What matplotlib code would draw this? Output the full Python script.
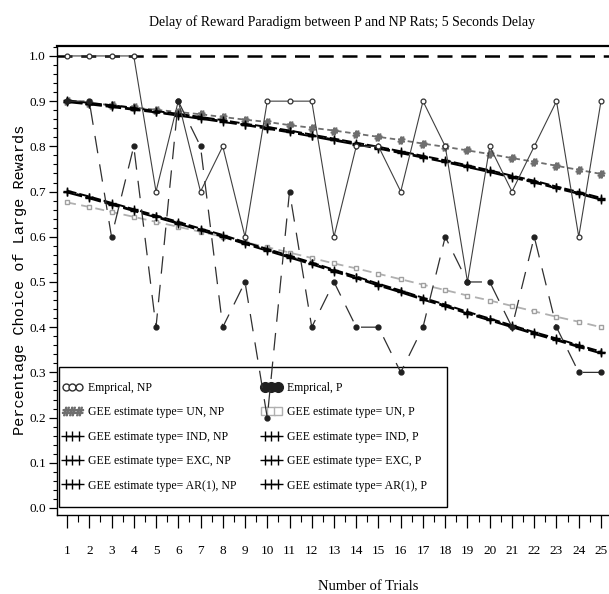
import matplotlib
matplotlib.use("Agg")
import matplotlib.pyplot as plt
from matplotlib.lines import Line2D
from matplotlib.patches import Rectangle
from matplotlib.ticker import MultipleLocator, FormatStrFormatter

# trial numbers
TRIALS = list(range(1, 26))

# empirical proportions of large-reward choices
EMP_NP = [1.0, 1.0, 1.0, 1.0, 0.7, 0.9, 0.7, 0.8, 0.6, 0.9, 0.9, 0.9, 0.6,
          0.8, 0.8, 0.7, 0.9, 0.8, 0.5, 0.8, 0.7, 0.8, 0.9, 0.6, 0.9]
EMP_P = [0.9, 0.9, 0.6, 0.8, 0.4, 0.9, 0.8, 0.4, 0.5, 0.2, 0.7, 0.4, 0.5,
         0.4, 0.4, 0.3, 0.4, 0.6, 0.5, 0.5, 0.4, 0.6, 0.4, 0.3, 0.3]

# GEE fitted curves, NP rats
GEE_UN_NP = [0.900, 0.896, 0.891, 0.886, 0.881, 0.876, 0.871, 0.865, 0.859,
             0.854, 0.847, 0.841, 0.835, 0.828, 0.821, 0.814, 0.806, 0.799,
             0.791, 0.783, 0.774, 0.766, 0.757, 0.748, 0.739]
GEE_IND_NP = [0.902, 0.896, 0.891, 0.885, 0.878, 0.872, 0.865, 0.858, 0.850,
              0.843, 0.835, 0.826, 0.817, 0.808, 0.799, 0.789, 0.779, 0.769,
              0.758, 0.747, 0.735, 0.724, 0.711, 0.699, 0.686]
GEE_EXC_NP = [0.900, 0.894, 0.889, 0.883, 0.876, 0.870, 0.863, 0.856, 0.848,
              0.841, 0.833, 0.824, 0.815, 0.806, 0.797, 0.787, 0.777, 0.767,
              0.756, 0.745, 0.733, 0.722, 0.709, 0.697, 0.684]
GEE_AR_NP = [0.898, 0.893, 0.887, 0.881, 0.875, 0.868, 0.861, 0.854, 0.847,
             0.839, 0.831, 0.822, 0.813, 0.804, 0.795, 0.785, 0.775, 0.765,
             0.754, 0.743, 0.731, 0.720, 0.707, 0.695, 0.682]

# GEE fitted curves, P rats
GEE_UN_P = [0.676, 0.666, 0.655, 0.644, 0.633, 0.622, 0.611, 0.600, 0.588,
            0.577, 0.565, 0.553, 0.541, 0.530, 0.518, 0.506, 0.494, 0.482,
            0.470, 0.459, 0.447, 0.435, 0.423, 0.412, 0.400]
GEE_IND_P = [0.702, 0.689, 0.675, 0.661, 0.647, 0.633, 0.618, 0.604, 0.588,
             0.573, 0.558, 0.543, 0.527, 0.512, 0.496, 0.481, 0.465, 0.450,
             0.434, 0.419, 0.404, 0.389, 0.375, 0.360, 0.346]
GEE_EXC_P = [0.700, 0.687, 0.673, 0.659, 0.645, 0.631, 0.616, 0.602, 0.586,
             0.571, 0.556, 0.541, 0.525, 0.510, 0.494, 0.479, 0.463, 0.448,
             0.432, 0.417, 0.402, 0.387, 0.373, 0.358, 0.344]
GEE_AR_P = [0.698, 0.685, 0.671, 0.657, 0.643, 0.629, 0.614, 0.600, 0.584,
            0.569, 0.554, 0.539, 0.523, 0.508, 0.492, 0.477, 0.461, 0.446,
            0.430, 0.415, 0.400, 0.385, 0.371, 0.356, 0.342]

LEGEND_LABELS = [
    "Emprical, NP",
    "GEE estimate type= UN, NP",
    "GEE estimate type= IND, NP",
    "GEE estimate type= EXC, NP",
    "GEE estimate type= AR(1), NP",
    "Emprical, P",
    "GEE estimate type= UN, P",
    "GEE estimate type= IND, P",
    "GEE estimate type= EXC, P",
    "GEE estimate type= AR(1), P",
]

SERIF = ["Liberation Serif", "DejaVu Serif"]
W, H = 609, 594

plt.rcParams.update({
    "font.family": SERIF,
    "font.size": 9,
    "axes.linewidth": 1.0,
})

fig = plt.figure(figsize=(W / 100, H / 100), dpi=100)
ax = fig.add_axes([57 / W, (H - 515) / H, (W - 57) / W, (515 - 46) / H])
ax.set_zorder(2)
ax.patch.set_alpha(0)

ax.set_xlim(0.55, 25.36)
ax.set_ylim(-0.0155, 1.022)

# reference line at 1.0
ax.axhline(1.0, color="black", lw=1.8, ls=(0, (6, 3.5)), zorder=1)

gee_black = dict(color="black", lw=1.4, marker="+", ms=6, mew=1.0, zorder=3)
ax.plot(TRIALS, GEE_UN_NP, color="#6e6e6e", lw=1.3, ls=(0, (3, 2)),
        marker="$\\#$", ms=5, zorder=2)
ax.plot(TRIALS, GEE_IND_NP, ls=(0, (5, 1.5)), **gee_black)
ax.plot(TRIALS, GEE_EXC_NP, ls=(0, (3, 2)), **gee_black)
ax.plot(TRIALS, GEE_AR_NP, ls=(0, (8, 2)), **gee_black)

ax.plot(TRIALS, GEE_UN_P, color="#b0b0b0", lw=1.3, ls=(0, (5, 3)),
        marker="s", ms=3.5, mfc="white", mec="#a0a0a0", zorder=2)
ax.plot(TRIALS, GEE_IND_P, ls=(0, (5, 1.5)), **gee_black)
ax.plot(TRIALS, GEE_EXC_P, ls=(0, (3, 2)), **gee_black)
ax.plot(TRIALS, GEE_AR_P, ls=(0, (8, 2)), **gee_black)

ax.plot(TRIALS, EMP_NP, color="#404040", lw=0.8, marker="o", ms=3.5,
        mfc="white", mec="#303030", mew=0.9, zorder=4)
ax.plot(TRIALS, EMP_P, color="#303030", lw=0.9, ls=(0, (14, 9)),
        marker="o", ms=3.5, mfc="#202020", mec="#202020", zorder=4)

# axes and ticks
ax.spines["right"].set_visible(False)
ax.spines["top"].set_linewidth(1.6)
ax.set_xticks(TRIALS)
ax.xaxis.set_minor_locator(MultipleLocator(0.5))
ax.yaxis.set_major_locator(MultipleLocator(0.1))
ax.yaxis.set_minor_locator(MultipleLocator(0.02))
ax.yaxis.set_major_formatter(FormatStrFormatter("%.1f"))
ax.tick_params(axis="x", which="major", direction="out", length=9.5, width=0.9,
               pad=12, labelsize=9.5)
ax.tick_params(axis="x", which="minor", direction="out", length=5, width=0.8)
ax.tick_params(axis="y", which="major", direction="out", length=6, width=0.9,
               pad=2, labelsize=9.5)
ax.tick_params(axis="y", which="minor", direction="out", length=3, width=0.8)

fig.text(342 / W, 1 - 22 / H,
         "Delay of Reward Paradigm between P and NP Rats; 5 Seconds Delay",
         ha="center", va="center", fontsize=10)
fig.text(368 / W, 1 - 586 / H, "Number of Trials", ha="center", va="center",
         fontsize=10.5)
fig.text(20 / W, 1 - 280 / H, "Percentage Choice of Large Rewards",
         ha="center", va="center", rotation=90, fontsize=11,
         family=["Liberation Mono", "DejaVu Sans Mono"])

# legend (sits under the data, like the original)
handles = [
    Line2D([], [], color="#303030", lw=0.8, marker="o", ms=5, mfc="white",
           mec="#303030"),
    Line2D([], [], color="#6e6e6e", ls="", marker="$\\#$", ms=6),
    Line2D([], [], color="black", lw=0.9, marker="+", ms=7),
    Line2D([], [], color="black", lw=0.9, marker="+", ms=7),
    Line2D([], [], color="black", lw=0.9, marker="+", ms=7),
    Line2D([], [], color="#202020", ls="", marker="o", ms=7, mfc="#202020"),
    Line2D([], [], color="#b0b0b0", ls="", marker="s", ms=6, mfc="white",
           mec="#b0b0b0"),
    Line2D([], [], color="black", lw=0.9, marker="+", ms=7),
    Line2D([], [], color="black", lw=0.9, marker="+", ms=7),
    Line2D([], [], color="black", lw=0.9, marker="+", ms=7),
]
fig.patches.append(Rectangle((59 / W, 1 - 507 / H), (447 - 59) / W, (507 - 367) / H,
                             transform=fig.transFigure, fill=False,
                             ec="black", lw=1.0, zorder=1))
leg = fig.legend(handles, LEGEND_LABELS, ncol=2, numpoints=3, frameon=False,
                 loc="upper left", bbox_to_anchor=(62 / W, 1 - 382 / H),
                 borderpad=0, borderaxespad=0, handlelength=1.7,
                 handletextpad=0.5, labelspacing=1.05, columnspacing=2.1,
                 fontsize=8.5)
leg.set_zorder(1)

fig.savefig("out.png", dpi=100)
